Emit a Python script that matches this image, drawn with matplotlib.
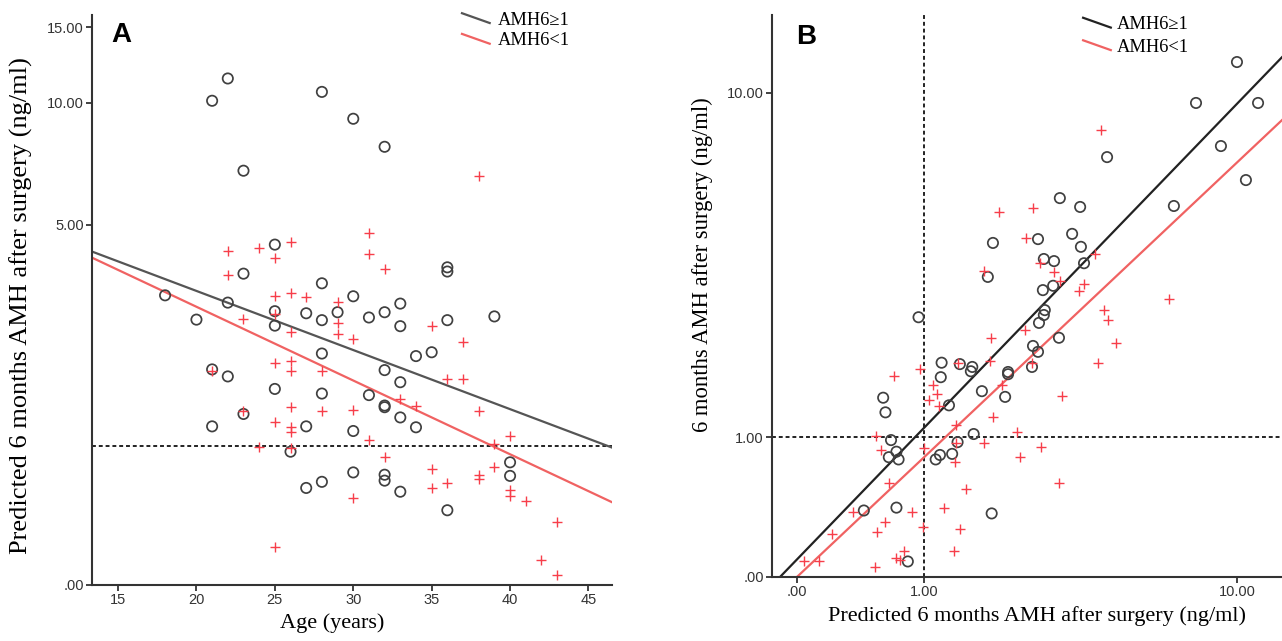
import numpy as np
import matplotlib
matplotlib.use("Agg")
import matplotlib.pyplot as plt
from matplotlib.lines import Line2D
from matplotlib.legend_handler import HandlerBase

plt.rcParams['font.family'] = ['Liberation Sans', 'DejaVu Sans']
SERIF = ['Liberation Serif', 'DejaVu Serif']

# ---- panel A: age vs predicted AMH6 ----
age_hi = [18, 20, 21, 21, 21, 22, 22, 22, 23, 23, 23, 25, 25, 25, 25, 26, 27, 27, 27,
          28, 28, 28, 28, 28, 28, 29, 30, 30, 30, 30, 31, 31, 32, 32, 32, 32, 32, 32, 32,
          33, 33, 33, 33, 33, 34, 34, 35, 36, 36, 36, 36, 39, 40, 40]
amh_hi = [3.22, 2.74, 10.1, 1.92, 1.20, 11.4, 3.07, 1.82, 6.84, 3.70, 1.34, 4.43, 2.90, 2.63, 1.65,
          0.94, 2.86, 1.20, 0.62, 10.6, 3.48, 2.73, 2.16, 1.59, 0.67, 2.88, 9.15, 3.20, 1.15, 0.75,
          2.78, 1.57, 7.83, 2.88, 1.91, 1.44, 1.42, 0.73, 0.68, 3.05, 2.62, 1.74, 1.30, 0.59,
          2.12, 1.19, 2.18, 3.85, 3.75, 2.73, 0.45, 2.80, 0.84, 0.72]
age_lo = [21, 22, 22, 23, 23, 24, 24, 25, 25, 25, 25, 25, 25, 26, 26, 26, 26, 26, 26, 26, 26, 26,
          27, 28, 28, 29, 29, 29, 30, 30, 30, 31, 31, 31, 32, 32, 33, 34, 35, 35, 35, 36, 36,
          37, 37, 38, 38, 38, 38, 39, 39, 40, 40, 40, 41, 42, 43, 43]
amh_lo = [1.89, 4.25, 3.68, 2.76, 1.38, 4.35, 0.99, 4.07, 3.20, 2.84, 2.02, 1.25, 0.21,
          4.51, 3.26, 2.51, 2.05, 1.90, 1.42, 1.19, 1.14, 0.98, 3.18, 1.89, 1.37, 3.09, 2.67, 2.48,
          2.39, 1.39, 0.54, 4.74, 4.19, 1.06, 3.82, 0.89, 1.52, 1.43, 2.62, 0.78, 0.62, 1.78, 0.66,
          2.34, 1.78, 6.65, 1.37, 0.73, 0.69, 1.02, 0.80, 1.10, 0.60, 0.56, 0.52, 0.13, 0.37, 0.05]
# fit lines in log10(y+1) units: intercept, slope per year
fit_a_hi = [0.890, -0.01276]
fit_a_lo = [0.919, -0.01592]

# ---- panel B: predicted vs observed AMH6 ----
pred_hi = [10.0, 7.80, 11.34, 9.08, 10.55, 4.42, 6.80, 3.19, 3.68, 1.91, 2.72, 3.48, 3.70, 2.84,
           3.06, 3.78, 1.83, 2.82, 3.04, 2.86, 2.84, 2.74, 3.17, 2.62, 2.72, 2.60, 2.16, 2.16,
           1.43, 1.20, 1.19, 1.60, 1.58, 1.74, 2.11, 0.60, 0.62, 1.29, 0.94, 0.67, 0.72, 0.65,
           0.74, 1.62, 1.40, 1.18, 1.13, 1.33, 0.44, 0.72, 1.89, 0.83]
obs_hi = [11.81, 9.46, 9.46, 7.45, 6.14, 7.00, 5.28, 5.53, 5.25, 4.23, 4.33, 4.47, 4.13, 3.83,
          3.78, 3.73, 3.42, 3.14, 3.23, 2.75, 2.66, 2.52, 2.27, 2.14, 2.05, 1.83, 1.76, 1.73,
          1.87, 1.89, 1.69, 1.83, 1.77, 1.51, 1.44, 1.43, 1.26, 1.34, 2.62, 0.97, 0.86, 0.81,
          0.79, 1.03, 0.95, 0.83, 0.79, 0.84, 0.39, 0.41, 0.37, 0.08]
pred_lo = [4.24, 2.01, 2.62, 2.48, 2.76, 3.06, 3.19, 1.77, 4.07, 3.65, 3.78, 6.60, 4.33, 4.45,
           4.69, 4.16, 1.88, 2.47, 1.86, 1.40, 2.60, 0.96, 0.70, 1.10, 1.14, 2.06, 3.24, 1.05,
           1.17, 1.91, 1.38, 0.54, 2.32, 0.58, 1.00, 1.77, 1.37, 2.78, 2.37, 0.65, 3.17, 1.51,
           1.23, 0.36, 0.87, 0.62, 0.55, 0.21, 0.99, 1.43, 1.35, 0.79, 0.72, 0.75, 0.04, 0.13,
           0.53, 1.38]
obs_lo = [8.15, 5.10, 5.22, 4.36, 3.73, 3.53, 3.33, 3.55, 3.95, 3.12, 3.27, 2.96, 2.75, 2.57,
          2.18, 1.89, 2.27, 2.40, 1.91, 1.89, 1.89, 1.80, 1.71, 1.59, 1.48, 1.59, 1.45, 1.40,
          1.33, 1.21, 1.12, 1.01, 1.05, 0.88, 0.89, 0.94, 0.77, 0.90, 0.81, 0.59, 0.59, 0.55,
          0.41, 0.38, 0.38, 0.31, 0.25, 0.24, 0.28, 0.27, 0.14, 0.14, 0.10, 0.09, 0.08, 0.08,
          0.05, 0.94]
# fit lines in log10(x+1) vs log10(y+1): intercept, slope
fit_b_hi = [0.0377, 0.941]
fit_b_lo = [0.0, 0.856]

labels = ['AMH6\u22651', 'AMH6<1']
ticks_a_x = [15, 20, 25, 30, 35, 40, 45]
ticks_a_y = [0, 5, 10, 15]
ticklab_a_y = ['.00', '5.00', '10.00', '15.00']
ticks_b = [0, 1, 10]
ticklab_b = ['.00', '1.00', '10.00']

GRAY = '#404040'
RED = '#f73e4a'
AXC = '#333333'


def fwd(v):
    return np.log10(np.maximum(np.asarray(v, float) + 1, 1e-9))


def inv(v):
    return 10 ** np.asarray(v, float) - 1


class SlashHandler(HandlerBase):
    def create_artists(self, legend, orig_handle, xdescent, ydescent, width, height, fontsize, trans):
        ym = -ydescent + height / 2
        ln = Line2D([-xdescent, -xdescent + width], [ym + height * 0.38, ym - height * 0.38],
                    color=orig_handle.get_color(), lw=1.6)
        ln.set_transform(trans)
        return [ln]


def style(ax):
    for s in ['top', 'right']:
        ax.spines[s].set_visible(False)
    for s in ['left', 'bottom']:
        ax.spines[s].set_color(AXC)
        ax.spines[s].set_linewidth(1.5)
    ax.tick_params(direction='out', length=4.5, width=1.3, color=AXC, labelcolor='#333333',
                   labelsize=10.5, pad=1.5)


fig = plt.figure(figsize=(12.82, 6.41), dpi=100)
axA = fig.add_axes([92 / 1282, 56 / 641, 520 / 1282, 570 / 641])
axB = fig.add_axes([772 / 1282, 64 / 641, 510 / 1282, 562 / 641])

# panel A
axA.set_yscale('function', functions=(fwd, inv))
axA.set_xlim(13.34, 46.5)
axA.set_ylim(0, 16.0)
axA.axhline(1, color='#222222', lw=1.4, ls=(0, (2, 1.5)), zorder=1)
axA.scatter(age_hi, amh_hi, s=55, facecolors='none', edgecolors=GRAY, linewidths=1.25, zorder=3)
axA.scatter(age_lo, amh_lo, s=60, marker='+', color=RED, linewidths=1.0, zorder=3)
xa = np.array(axA.get_xlim())
lA1, = axA.plot(xa, inv(fit_a_hi[0] + fit_a_hi[1] * xa), color='#555555', lw=1.6, zorder=2)
lA2, = axA.plot(xa, inv(fit_a_lo[0] + fit_a_lo[1] * xa), color='#f06262', lw=1.6, zorder=2)
axA.set_xticks(ticks_a_x)
axA.set_yticks(ticks_a_y)
axA.set_yticklabels(ticklab_a_y)
style(axA)
axA.set_xlabel('Age (years)', family=SERIF, fontsize=16)
axA.set_ylabel('Predicted 6 months AMH after surgery (ng/ml)', family=SERIF, fontsize=19)
axA.xaxis.set_label_coords(0.4615, -0.05)
axA.yaxis.set_label_coords(-0.113, 0.49)
axA.text(0.038, 0.988, 'A', transform=axA.transAxes, fontsize=20, fontweight='bold', va='top')
axA.legend([lA1, lA2], labels, handler_map={Line2D: SlashHandler()}, loc='upper left',
           bbox_to_anchor=(0.7115, 1.006), frameon=False, borderpad=0, borderaxespad=0,
           handlelength=1.5, handletextpad=0.45, labelspacing=0.2,
           prop={'family': SERIF, 'size': 13.3})

# panel B
axB.set_xscale('function', functions=(fwd, inv))
axB.set_yscale('function', functions=(fwd, inv))
axB.set_xlim(-0.127, 13.06)
axB.set_ylim(0, 15.17)
axB.axhline(1, color='#222222', lw=1.4, ls=(0, (2, 1.5)), zorder=1)
axB.axvline(1, color='#222222', lw=1.4, ls=(0, (2, 1.5)), zorder=1)
axB.scatter(pred_hi, obs_hi, s=55, facecolors='none', edgecolors=GRAY, linewidths=1.25, zorder=3)
axB.scatter(pred_lo, obs_lo, s=60, marker='+', color=RED, linewidths=1.0, zorder=3)
xmax = fwd(axB.get_xlim()[1])
lines_b = []
for (c, d), col in [(fit_b_hi, '#222222'), (fit_b_lo, '#f06262')]:
    X = np.array([-c / d, xmax])
    ln, = axB.plot(inv(X), inv(c + d * X), color=col, lw=1.6, zorder=2)
    lines_b.append(ln)
axB.set_xticks(ticks_b)
axB.set_xticklabels(ticklab_b)
axB.set_yticks(ticks_b)
axB.set_yticklabels(ticklab_b)
style(axB)
axB.set_xlabel('Predicted 6 months AMH after surgery (ng/ml)', family=SERIF, fontsize=16)
axB.set_ylabel('6 months AMH after surgery (ng/ml)', family=SERIF, fontsize=16.3)
axB.xaxis.set_label_coords(0.52, -0.052)
axB.yaxis.set_label_coords(-0.116, 0.555)
axB.text(0.047, 0.984, 'B', transform=axB.transAxes, fontsize=20, fontweight='bold', va='top')
axB.legend(lines_b, labels, handler_map={Line2D: SlashHandler()}, loc='upper left',
           bbox_to_anchor=(0.61, 0.998), frameon=False, borderpad=0, borderaxespad=0,
           handlelength=1.5, handletextpad=0.35, labelspacing=0.3,
           prop={'family': SERIF, 'size': 13.3})

fig.savefig('out.png', dpi=100)
